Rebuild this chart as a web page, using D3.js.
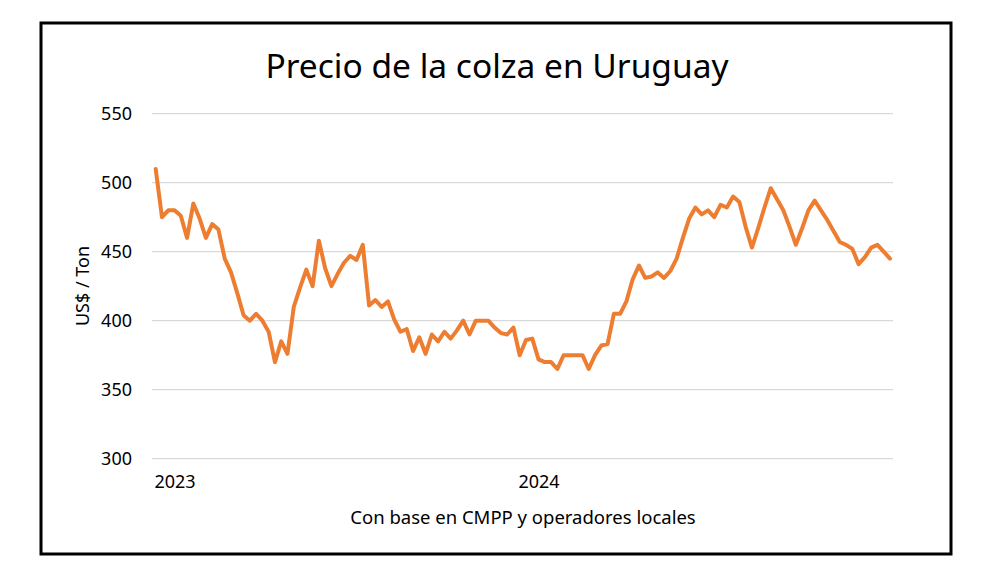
<!DOCTYPE html>
<html>
<head>
<meta charset="utf-8">
<script src="https://cdn.jsdelivr.net/npm/d3@7"></script>
<style>
  html, body { margin: 0; padding: 0; background: #ffffff; }
  svg { display: block; }
</style>
</head>
<body>
<svg id="chart" width="1000" height="577"></svg>
<script>
// ---- data ----
const title = "Precio de la colza en Uruguay";
const yAxisTitle = "US$ / Ton";
const xAxisTitle = "Con base en CMPP y operadores locales";
const yTicks = [300, 350, 400, 450, 500, 550];
const yearLabels = ["2023", "2024"];
const yearLabelIndex = [3, 61];
const prices = [
  510, 475, 480, 480, 476, 460, 485, 474, 460, 470,
  466, 445, 435, 420, 404, 400, 405, 400, 392, 370,
  385, 376, 410, 424, 437, 425, 458, 438, 425, 434,
  442, 447, 444, 455, 411, 415, 410, 414, 401, 392,
  394, 378, 388, 376, 390, 385, 392, 387, 393, 400,
  390, 400, 400, 400, 395, 391, 390, 395, 375, 386,
  387, 372, 370, 370, 365, 375, 375, 375, 375, 365,
  375, 382, 383, 405, 405, 414, 430, 440, 431, 432,
  435, 431, 436, 445, 460, 474, 482, 477, 480, 475,
  484, 482, 490, 486, 468, 453, 467, 482, 496, 488,
  480, 468, 455, 467, 480, 487, 480, 473, 465, 457,
  455, 452, 441, 446, 453, 455, 450, 445
];

// ---- layout ----
const svg = d3.select("#chart");
const plot = { left: 152, right: 893, top: 113.7, bottom: 458.7 };
const x = d3.scaleLinear().domain([0, prices.length - 1]).range([155.7, 890]);
const y = d3.scaleLinear().domain([300, 550]).range([plot.bottom, plot.top]);
const fontFam = "'Noto Sans', 'Open Sans', sans-serif";

// frame
svg.append("rect")
  .attr("x", 41).attr("y", 23).attr("width", 910).attr("height", 531)
  .attr("fill", "#fff").attr("stroke", "#000").attr("stroke-width", 3);

// title
svg.append("text")
  .attr("x", 497).attr("y", 78)
  .attr("text-anchor", "middle")
  .attr("font-family", fontFam).attr("font-size", 33.5)
  .attr("fill", "#000")
  .text(title);

// gridlines
svg.append("g").selectAll("line").data(yTicks).join("line")
  .attr("x1", plot.left).attr("x2", plot.right)
  .attr("y1", d => y(d)).attr("y2", d => y(d))
  .attr("stroke", "#d9d9d9").attr("stroke-width", 1.3);

// y axis labels
const yAxis = d3.axisLeft(y).tickValues(yTicks).tickSize(0).tickPadding(0);
const gy = svg.append("g").attr("transform", "translate(132,0)").call(yAxis);
gy.select(".domain").remove();
gy.selectAll("text")
  .attr("font-family", fontFam).attr("font-size", 18).attr("fill", "#000");

// x axis labels
const xAxis = d3.axisBottom(x).tickValues(yearLabelIndex)
  .tickFormat((d, i) => yearLabels[i]).tickSize(0).tickPadding(0);
const gx = svg.append("g").attr("transform", "translate(0,475)").call(xAxis);
gx.select(".domain").remove();
gx.selectAll("text")
  .attr("font-family", fontFam).attr("font-size", 18).attr("fill", "#000");

// axis titles
svg.append("text")
  .attr("transform", "translate(89,286) rotate(-90)")
  .attr("text-anchor", "middle")
  .attr("font-family", fontFam).attr("font-size", 18).attr("fill", "#000")
  .text(yAxisTitle);

svg.append("text")
  .attr("x", 523).attr("y", 524)
  .attr("text-anchor", "middle")
  .attr("font-family", fontFam).attr("font-size", 18.5).attr("fill", "#000")
  .text(xAxisTitle);

// line
const line = d3.line().x((d, i) => x(i)).y(d => y(d));
svg.append("path")
  .datum(prices)
  .attr("d", line)
  .attr("fill", "none")
  .attr("stroke", "#ED7D31")
  .attr("stroke-width", 4)
  .attr("stroke-linejoin", "round")
  .attr("stroke-linecap", "round");
</script>
</body>
</html>
